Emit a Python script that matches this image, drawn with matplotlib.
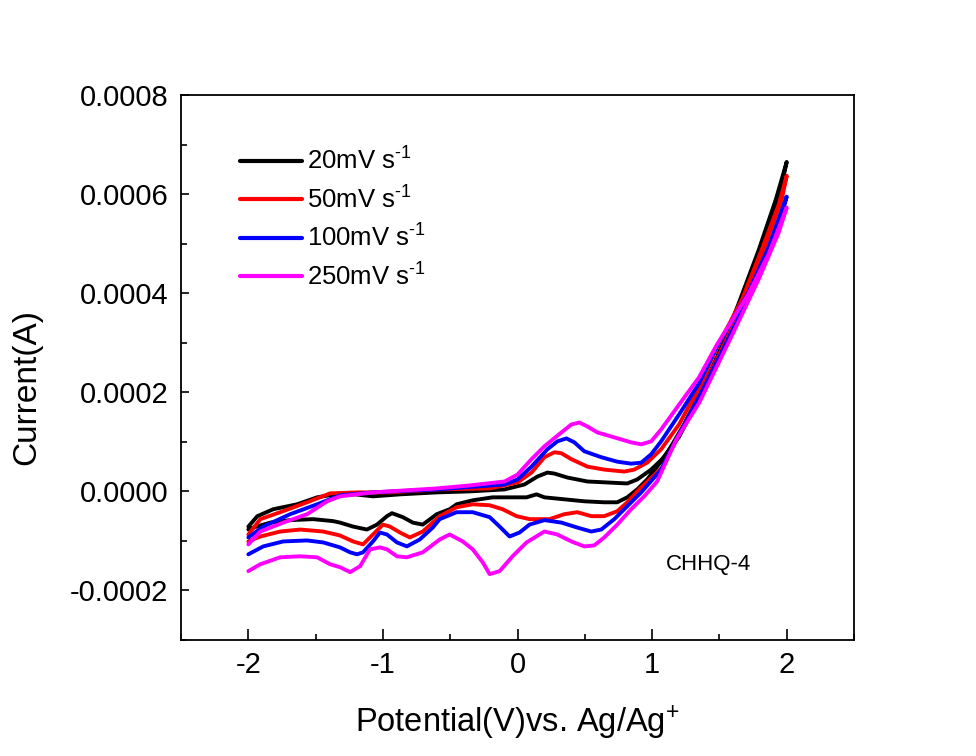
import matplotlib
matplotlib.use("Agg")
import matplotlib.pyplot as plt
from matplotlib.ticker import MultipleLocator, FuncFormatter

plt.rcParams['font.family'] = ['Liberation Sans', 'DejaVu Sans']
plt.rcParams['mathtext.default'] = 'regular'
plt.rcParams['axes.unicode_minus'] = False

# ---- data (potential in V, current in 1e-4 A); forward sweep then reverse sweep ----
labels = ['20mV s$^{\u20101}$', '50mV s$^{\u20101}$', '100mV s$^{\u20101}$', '250mV s$^{\u20101}$']
colors = ['#000000', '#ff0000', '#0000ff', '#ff00ff']

v20 = [-2.0, -1.933, -1.815, -1.637, -1.489, -1.356, -1.207, -1.074, -0.874, -0.6, -0.356, -0.096,
       0.052, 0.148, 0.222, 0.274, 0.370, 0.519, 0.667, 0.815, 0.889, 0.993, 1.074, 1.2, 1.296,
       1.474, 1.644, 1.793, 1.919, 2.0,
       1.956, 1.83, 1.644, 1.422, 1.237, 1.1, 0.963, 0.889, 0.815, 0.741, 0.644, 0.496, 0.348,
       0.2, 0.141, 0.067, -0.037, -0.185, -0.333, -0.452, -0.504, -0.6, -0.704, -0.778, -0.852,
       -0.933, -0.970, -1.044, -1.119, -1.222, -1.319, -1.370, -1.519, -1.689, -1.837, -1.963, -2.0]
i20 = [-0.71, -0.50, -0.36, -0.26, -0.12, -0.06, -0.06, -0.10, -0.06, -0.02, 0.00, 0.04,
       0.14, 0.30, 0.38, 0.36, 0.28, 0.20, 0.18, 0.16, 0.24, 0.44, 0.65, 1.10, 1.60,
       2.62, 3.80, 4.88, 5.89, 6.65,
       6.09, 4.98, 3.67, 2.36, 1.35, 0.72, 0.24, 0.04, -0.12, -0.22, -0.22, -0.20, -0.16,
       -0.12, -0.06, -0.12, -0.12, -0.12, -0.18, -0.26, -0.36, -0.46, -0.67, -0.63, -0.52,
       -0.44, -0.50, -0.67, -0.77, -0.71, -0.63, -0.60, -0.56, -0.58, -0.63, -0.73, -0.77]

v50 = [-2.0, -1.911, -1.763, -1.563, -1.393, -1.193, -0.948, -0.6, -0.207, 0.0, 0.104, 0.2, 0.274,
       0.326, 0.4, 0.519, 0.644, 0.793, 0.867, 0.963, 1.067, 1.2, 1.348, 1.481, 1.667, 1.815,
       1.941, 2.0,
       1.963, 1.83, 1.644, 1.407, 1.222, 1.074, 0.904, 0.815, 0.741, 0.644, 0.548, 0.444, 0.348,
       0.237, 0.089, -0.007, -0.111, -0.207, -0.333, -0.452, -0.578, -0.704, -0.8, -0.874,
       -0.948, -1.0, -1.074, -1.148, -1.222, -1.319, -1.444, -1.615, -1.763, -1.911, -2.0]
i50 = [-0.87, -0.56, -0.42, -0.22, -0.04, -0.02, -0.02, 0.04, 0.06, 0.18, 0.38, 0.69, 0.79,
       0.77, 0.65, 0.50, 0.44, 0.40, 0.44, 0.58, 0.85, 1.35, 2.10, 2.90, 3.87, 4.88,
       5.79, 6.37,
       5.89, 4.88, 3.57, 2.26, 1.25, 0.48, 0.04, -0.22, -0.40, -0.50, -0.50, -0.42, -0.46,
       -0.56, -0.56, -0.50, -0.36, -0.28, -0.26, -0.32, -0.50, -0.81, -0.93, -0.83,
       -0.71, -0.67, -0.87, -1.07, -1.01, -0.89, -0.81, -0.77, -0.81, -0.91, -1.01]

v100 = [-2.0, -1.889, -1.689, -1.489, -1.319, -1.074, -0.6, -0.096, 0.0, 0.104, 0.222, 0.296,
        0.363, 0.422, 0.496, 0.622, 0.741, 0.844, 0.919, 0.993, 1.067, 1.2, 1.348, 1.481, 1.719,
        1.867, 2.0,
        1.963, 1.83, 1.63, 1.385, 1.2, 1.067, 0.919, 0.815, 0.719, 0.622, 0.548, 0.444, 0.326,
        0.2, 0.089, 0.015, -0.059, -0.133, -0.207, -0.333, -0.452, -0.578, -0.63, -0.726,
        -0.822, -0.896, -0.970, -1.022, -1.074, -1.148, -1.193, -1.244, -1.319, -1.444, -1.563,
        -1.741, -1.889, -2.0]
i100 = [-0.93, -0.71, -0.46, -0.26, -0.08, -0.02, 0.04, 0.14, 0.24, 0.50, 0.85, 1.01,
        1.07, 0.99, 0.81, 0.69, 0.60, 0.56, 0.58, 0.75, 1.01, 1.55, 2.18, 2.92, 4.03,
        4.94, 5.95,
        5.58, 4.64, 3.43, 2.10, 1.15, 0.44, -0.02, -0.30, -0.56, -0.77, -0.81, -0.73, -0.63,
        -0.58, -0.67, -0.83, -0.91, -0.71, -0.52, -0.42, -0.42, -0.56, -0.73, -0.97,
        -1.11, -1.03, -0.87, -0.83, -1.01, -1.23, -1.27, -1.23, -1.13, -1.03, -0.99,
        -1.01, -1.11, -1.27]

v250 = [-2.0, -1.911, -1.741, -1.563, -1.415, -1.319, -1.074, -0.6, -0.356, -0.096, 0.0, 0.104,
        0.2, 0.326, 0.4, 0.459, 0.519, 0.593, 0.719, 0.844, 0.919, 0.993, 1.067, 1.2, 1.348,
        1.481, 1.719, 1.867, 2.0,
        1.94, 1.79, 1.59, 1.35, 1.18, 1.037, 0.941, 0.844, 0.741, 0.644, 0.570, 0.496, 0.4,
        0.296, 0.2, 0.163, 0.067, -0.037, -0.133, -0.207, -0.259, -0.333, -0.407, -0.504,
        -0.578, -0.704, -0.822, -0.896, -0.970, -1.022, -1.096, -1.170, -1.244, -1.319, -1.393,
        -1.489, -1.615, -1.763, -1.911, -2.0]
i250 = [-1.07, -0.81, -0.63, -0.46, -0.20, -0.10, -0.02, 0.06, 0.12, 0.20, 0.34, 0.65,
        0.91, 1.19, 1.35, 1.39, 1.31, 1.19, 1.09, 0.99, 0.95, 1.01, 1.25, 1.75, 2.30,
        2.96, 4.00, 4.80, 5.73,
        5.22, 4.27, 3.13, 1.79, 1.05, 0.20, -0.10, -0.36, -0.67, -0.93, -1.09, -1.11, -1.01,
        -0.87, -0.81, -0.87, -1.03, -1.31, -1.61, -1.67, -1.43, -1.17, -1.01, -0.87,
        -0.97, -1.23, -1.33, -1.31, -1.17, -1.13, -1.17, -1.51, -1.63, -1.53, -1.47,
        -1.33, -1.31, -1.33, -1.47, -1.61]

potentials = [v20, v50, v100, v250]
currents = [i20, i50, i100, i250]

x_ticks = [-2, -1, 0, 1, 2]
y_ticks = [-0.0002, 0.0, 0.0002, 0.0004, 0.0006, 0.0008]

fig = plt.figure(figsize=(9.76, 7.56), dpi=100)
ax = fig.add_axes([0.1855, 0.1534, 0.6895, 0.7209])

for v, i, c, lab in zip(potentials, currents, colors, labels):
    ax.plot(v, [k * 1e-4 for k in i], color=c, lw=2.8, label=lab,
            solid_joinstyle='round', solid_capstyle='round')

ax.set_xlim(-2.5, 2.5)
ax.set_ylim(-0.0003, 0.0008)
ax.set_xticks(x_ticks)
ax.set_yticks(y_ticks)
ax.xaxis.set_minor_locator(MultipleLocator(0.5))
ax.yaxis.set_minor_locator(MultipleLocator(0.0001))
ax.xaxis.set_major_formatter(FuncFormatter(lambda v, p: '%d' % round(v)))
ax.yaxis.set_major_formatter(FuncFormatter(lambda v, p: ('%.4f' % v).replace('-0.0000', '0.0000')))

ax.tick_params(axis='both', which='both', direction='in', top=False, right=False,
               labelsize=21, width=1.2)
ax.tick_params(axis='x', which='major', length=8, pad=8)
ax.tick_params(axis='x', which='minor', length=4)
ax.tick_params(axis='y', which='major', length=6, pad=9)
ax.tick_params(axis='y', which='minor', length=4)
for s in ax.spines.values():
    s.set_linewidth(1.3)

ax.set_xlabel('Potential(V)vs. Ag/Ag$^{+}$', fontsize=23.5, labelpad=18)
ax.set_ylabel('Current(A)', fontsize=24)
ax.yaxis.set_label_coords(-0.206, 0.464)

ax.text(1.1, -0.000158, 'CHHQ-4', fontsize=16, va='baseline', ha='left')

leg = ax.legend(loc='upper left', bbox_to_anchor=(0.053, 0.946), frameon=False,
                fontsize=18.5, handlelength=2.4, handletextpad=0.2, labelspacing=0.44)
for h in leg.get_lines():
    h.set_linewidth(3.0)

fig.savefig('out.png', dpi=100)
